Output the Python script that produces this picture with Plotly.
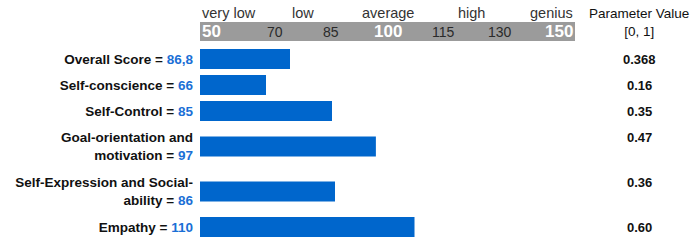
import plotly.graph_objects as go

# ---- data ----
labels = ["Overall Score =", "Self-conscience =", "Self-Control =",
          "Goal-orientation and<br>motivation =", "Self-Expression and Social-<br>ability =",
          "Empathy ="]
score_text = ["86,8", "66", "85", "97", "86", "110"]
bar_values = [74.0, 67.6, 85.2, 96.9, 86.0, 107.2]   # bar ends (score scale)
param_values = ["0.368", "0.16", "0.35", "0.47", "0.36", "0.60"]

scale_ticks = [50, 70, 85, 100, 115, 130, 150]
scale_major = [True, False, False, True, False, False, True]
band_names = ["very low", "low", "average", "high", "genius"]
band_pos = [50, 77.5, 100, 122.5, 150]

# ---- layout helpers (row heights from line counts) ----
BLUE = "#0066cc"
FONT = "Liberation Sans, Arial, sans-serif"
n_lines = [l.count("<br>") + 1 for l in labels]
row_h = [26 + 19 * (n - 1) for n in n_lines]
centers, acc = [], 0
for h in row_h:
    centers.append(acc + h / 2)
    acc += h
total_h = acc

ticktext = [f"<b>{l} <span style='color:#1a6fd6'>{s}</span></b>" for l, s in zip(labels, score_text)]

fig = go.Figure(go.Bar(
    x=[v - 50 for v in bar_values], base=50, y=centers, orientation="h",
    width=20, marker=dict(color=BLUE, line=dict(width=0)), hoverinfo="skip"))

fig.update_layout(
    width=690, height=244,
    margin=dict(l=200, r=115, t=46, b=4),
    paper_bgcolor="white", plot_bgcolor="white",
    showlegend=False,
    font=dict(family=FONT, size=13, color="#111111"),
    xaxis=dict(range=[50, 150], showticklabels=False, showgrid=False, zeroline=False,
               showline=False, ticks="", fixedrange=True, automargin=False),
    yaxis=dict(range=[total_h, 0], tickvals=centers, ticktext=ticktext, showgrid=False,
               zeroline=False, showline=False, ticks="", ticklabelstandoff=6,
               automargin=False,
               tickfont=dict(family=FONT, size=13.5, color="#111111")),
)

# grey scale band above plot
px = 1 / total_h
fig.add_shape(type="rect", xref="x", yref="paper", x0=50, x1=150,
              y0=1 + 5 * px, y1=1 + 24 * px, fillcolor="#9b9b9b", line=dict(width=0))

for v, major in zip(scale_ticks, scale_major):
    anchor = "left" if v == scale_ticks[0] else ("right" if v == scale_ticks[-1] else "center")
    if major:
        txt = f"<b>{v}</b>"
        f = dict(family=FONT, size=17, color="white")
    else:
        txt = str(v)
        f = dict(family=FONT, size=14, color="#2a2a2a")
    fig.add_annotation(x=v, y=1 + 14.5 * px, xref="x", yref="paper", text=txt,
                       showarrow=False, xanchor=anchor, yanchor="middle", font=f)

for name, v in zip(band_names, band_pos):
    anchor = "left" if v == band_pos[0] else ("right" if v == band_pos[-1] else "center")
    fig.add_annotation(x=v, y=1 + 33 * px, xref="x", yref="paper", text=name,
                       showarrow=False, xanchor=anchor, yanchor="middle",
                       font=dict(family=FONT, size=14.5, color="#333333"))

# right column
fig.add_annotation(x=(639 - 200) / 375, y=1 + 23 * px, xref="paper", yref="paper",
                   text="Parameter Value<br>[0, 1]", showarrow=False, xanchor="center",
                   yanchor="middle", font=dict(family=FONT, size=13.5, color="#111111"))
for c, n, p in zip(centers, n_lines, param_values):
    fig.add_annotation(x=(639 - 200) / 375, y=c - 9.5 * (n - 1), xref="paper", yref="y",
                       text=f"<b>{p}</b>", showarrow=False, xanchor="center", yanchor="middle",
                       font=dict(family=FONT, size=13, color="#111111"))

fig.write_html("out.html", config={"displayModeBar": False},
               post_script="document.body.style.margin='0';document.body.style.overflow='hidden';")
